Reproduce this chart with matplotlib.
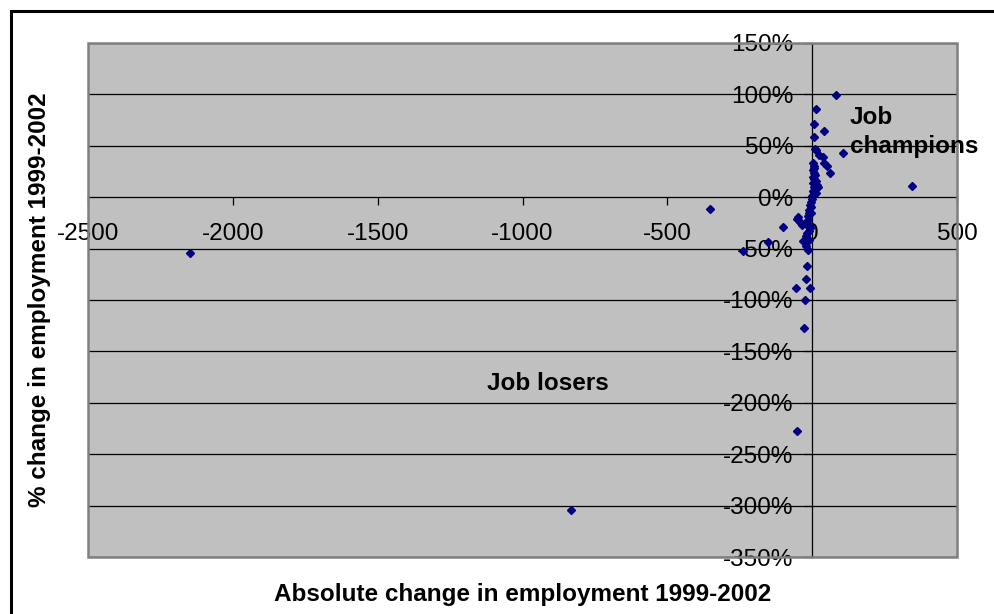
import matplotlib
matplotlib.use("Agg")
import matplotlib.pyplot as plt
from matplotlib.patches import Rectangle
from matplotlib.ticker import FuncFormatter

plt.rcParams['font.family'] = ['Liberation Sans', 'DejaVu Sans']
plt.rcParams['axes.unicode_minus'] = False

# Absolute change in employment 1999-2002
abs_change = [
    -2147, -832, -352, -238, -152, -100, -52, 345, 83, 107,
    14, 7, 41, 7, 10, 14, 24, 38, 41, 52, 62, 3,
    5, 8, 3, 6, 10, 4, 7, 12, 3, 9, 16, 5, 20, 11, 2, 8, 14, 4, 1,
    -2, -5, -8, -4, -12, -10, -16, -14, -20, -8, -18, -21, -10,
    -52, -41, -35, -48, -38,
    -31, -14, -17, -21, -55, -7, -24, -28, -20, -12, -6, -3,
]
# % change in employment 1999-2002 (fraction)
pct_change = [
    -0.54, -3.04, -0.11, -0.52, -0.44, -0.29, -2.27, 0.11, 0.99, 0.43,
    0.86, 0.71, 0.64, 0.59, 0.47, 0.46, 0.41, 0.39, 0.33, 0.30, 0.24, 0.33,
    0.30, 0.28, 0.26, 0.24, 0.22, 0.20, 0.18, 0.16, 0.14, 0.13, 0.12, 0.10, 0.10, 0.08, 0.06, 0.05, 0.04, 0.02, 0.01,
    -0.02, -0.05, -0.08, -0.10, -0.12, -0.15, -0.18, -0.22, -0.26, -0.30, -0.35, -0.38, -0.42,
    -0.21, -0.24, -0.27, -0.19, -0.25,
    -0.43, -0.51, -0.67, -0.80, -0.88, -0.88, -1.00, -1.27, -0.47, -0.33, -0.28, -0.15,
]

x_ticks = [-2500, -2000, -1500, -1000, -500, 0, 500]
y_ticks = [-3.5, -3.0, -2.5, -2.0, -1.5, -1.0, -0.5, 0.0, 0.5, 1.0, 1.5]

W, H = 994, 614
fig = plt.figure(figsize=(W / 100, H / 100), dpi=100)
fig.patch.set_facecolor('white')

# outer chart border (cropped at right and bottom)
fig.add_artist(Rectangle((11 / W, -0.05), 1.2, 1 - 11 / H + 0.05,
                         transform=fig.transFigure, fill=False,
                         edgecolor='black', linewidth=2.2))

ax = fig.add_axes([88 / W, 1 - 557 / H, (957 - 88) / W, (557 - 43) / H])
ax.set_facecolor('#C0C0C0')
ax.set_xlim(-2500, 500)
ax.set_ylim(-3.5, 1.5)

for y in y_ticks:
    if y != 0:
        ax.axhline(y, color='black', linewidth=0.9, zorder=1)

ax.plot(abs_change, pct_change, linestyle='none', marker='D', markersize=4.5,
        color='#000080', zorder=3, clip_on=False)

for s in ['top', 'right']:
    ax.spines[s].set_visible(False)
ax.spines['left'].set_position(('data', 0))
ax.spines['bottom'].set_position(('data', 0))
ax.spines['left'].set_linewidth(0.9)
ax.spines['bottom'].set_linewidth(0.9)
ax.spines['left'].set_zorder(2)
ax.spines['bottom'].set_zorder(2)

# gray frame of the plot area
ax.add_patch(Rectangle((0, 0), 1, 1, transform=ax.transAxes, fill=False,
                       edgecolor='#808080', linewidth=1.8, zorder=4, clip_on=False))

ax.set_xticks(x_ticks)
ax.set_yticks(y_ticks)
ax.xaxis.set_major_formatter(FuncFormatter(lambda v, p: f"{int(v)}"))
ax.yaxis.set_major_formatter(FuncFormatter(lambda v, p: f"{int(round(v * 100))}%"))
ax.tick_params(axis='both', direction='out', length=6, width=0.9, labelsize=17.5,
               color='black', labelcolor='black')
ax.tick_params(axis='x', pad=12.5)
ax.tick_params(axis='y', pad=7.5)

fig.text(523 / W, 1 - 595 / H, 'Absolute change in employment 1999-2002',
         ha='center', va='center', fontsize=17.5, fontweight='bold')
fig.text(40 / W, 1 - 300 / H, '% change in employment 1999-2002',
         ha='center', va='center', rotation=90, fontsize=17.5, fontweight='bold')

fig.text(850 / W, 1 - 117 / H, 'Job', ha='left', va='center', fontsize=17.5, fontweight='bold')
fig.text(850 / W, 1 - 147 / H, 'champions', ha='left', va='center', fontsize=17.5, fontweight='bold')
fig.text(548 / W, 1 - 383 / H, 'Job losers', ha='center', va='center', fontsize=17.5, fontweight='bold')

fig.savefig('out.png', dpi=100)
